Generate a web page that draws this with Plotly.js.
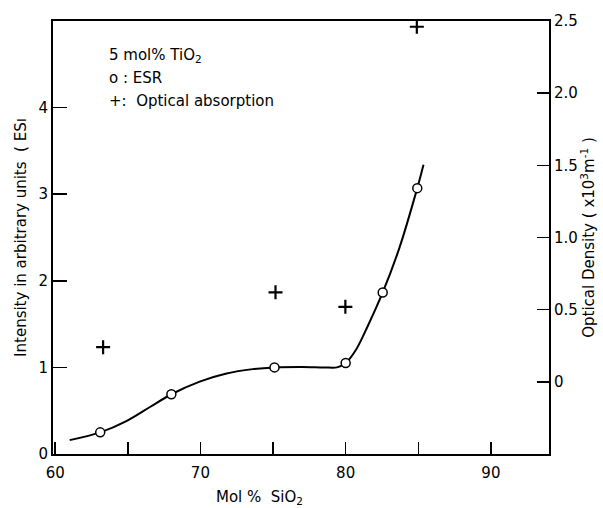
<!DOCTYPE html>
<html><head><meta charset="utf-8">
<script src="https://cdn.plot.ly/plotly-3.0.1.min.js"></script>
<style>body{margin:0;background:#fff}</style>
</head><body>
<div id="chart" style="width:603px;height:508px"></div>
<script>
// ESR measured points (left axis, arbitrary units)
var esrX = [63.1, 68.0, 75.1, 80.0, 82.55, 84.93];
var esrY = [0.25, 0.69, 1.0, 1.05, 1.865, 3.07];
// Hand-drawn guide curve through ESR points
var curveX = [61.0, 63.1, 64.9, 66.5, 68.0, 69.95, 71.8, 73.6, 75.1, 77.0, 78.5, 79.4, 80.0, 80.7, 81.5, 82.55, 83.7, 84.93, 85.36];
var curveY = [0.16, 0.25, 0.38, 0.54, 0.69, 0.836, 0.93, 0.98, 1.0, 1.005, 1.0, 1.0, 1.05, 1.2, 1.47, 1.865, 2.38, 3.07, 3.34];
// Optical absorption (right axis, x10^3 m^-1)
var optX = [63.3, 75.17, 79.98, 84.9];
var optY = [0.24, 0.62, 0.52, 2.46];
// tick labels
var xTickVals = [60, 65, 70, 75, 80, 85, 90];
var xTickText = ['60', '', '70', '', '80', '', '90'];
var yTickVals = [0, 1, 2, 3, 4];
var y2TickVals = [0, 0.5, 1.0, 1.5, 2.0, 2.5];
var y2TickText = ['0', '0.5', '1.0', '1.5', '2.0', '2.5'];

var F = 'DejaVu Sans, sans-serif';
var FS = 15;
var traces = [
  {x: curveX, y: curveY, mode: 'lines', line: {shape: 'spline', smoothing: 0.9, color: '#000', width: 2}, yaxis: 'y', hoverinfo: 'skip'},
  {x: esrX, y: esrY, mode: 'markers', yaxis: 'y',
   marker: {symbol: 'circle', size: 9, color: '#fff', line: {color: '#000', width: 1.5}}},
  {x: optX, y: optY, mode: 'markers', yaxis: 'y2',
   marker: {symbol: 'cross-thin', size: 10, color: '#000', line: {color: '#000', width: 2.2}}}
];
var layout = {
  width: 603, height: 508,
  margin: {l: 53, r: 54, t: 21, b: 54},
  paper_bgcolor: '#fff', plot_bgcolor: '#fff',
  showlegend: false,
  font: {family: F, size: FS, color: '#000'},
  xaxis: {range: [59.85, 94], tickmode: 'array', tickvals: xTickVals, ticktext: xTickText,
    ticks: 'inside', ticklen: 12, tickwidth: 1.5, tickcolor: '#000', ticklabelstandoff: 4,
    showline: true, linewidth: 2, linecolor: '#000', mirror: true,
    showgrid: false, zeroline: false, tickfont: {family: F, size: FS}},
  yaxis: {range: [0, 5], tickmode: 'array', tickvals: yTickVals,
    ticks: 'inside', ticklen: 14, tickwidth: 1.5, tickcolor: '#000',
    showline: true, linewidth: 2, linecolor: '#000', mirror: true,
    showgrid: false, zeroline: false, tickfont: {family: F, size: FS},
    title: {text: 'Intensity in arbitrary units  ( ESı', font: {family: F, size: FS}, standoff: 8}},
  yaxis2: {range: [-0.5, 2.5], overlaying: 'y', side: 'right', tickmode: 'array',
    tickvals: y2TickVals, ticktext: y2TickText,
    ticks: 'inside', ticklen: 12, tickwidth: 1.5, tickcolor: '#000',
    showline: true, linewidth: 2, linecolor: '#000',
    showgrid: false, zeroline: false, tickfont: {family: F, size: FS},
    title: {text: 'Optical Density ( x10<sup>3</sup>m<sup>-1</sup> )', font: {family: F, size: FS}, standoff: 4}},
  annotations: [
    {xref: 'paper', yref: 'paper', x: 0.417, y: -0.1, xanchor: 'center', yanchor: 'middle', showarrow: false,
     text: 'Mol %  SiO<sub>2</sub>', font: {family: F, size: FS}},
    {xref: 'paper', yref: 'paper', x: 0.108, y: 0.92, xanchor: 'left', yanchor: 'middle', showarrow: false,
     text: '5 mol% TiO<sub>2</sub>', font: {family: F, size: FS}},
    {xref: 'paper', yref: 'paper', x: 0.108, y: 0.868, xanchor: 'left', yanchor: 'middle', showarrow: false,
     text: 'o : ESR', font: {family: F, size: FS}},
    {xref: 'paper', yref: 'paper', x: 0.108, y: 0.815, xanchor: 'left', yanchor: 'middle', showarrow: false,
     text: '+:  Optical absorption', font: {family: F, size: FS}}
  ]
};
Plotly.newPlot('chart', traces, layout, {displayModeBar: false, staticPlot: true});
</script>
</body></html>
